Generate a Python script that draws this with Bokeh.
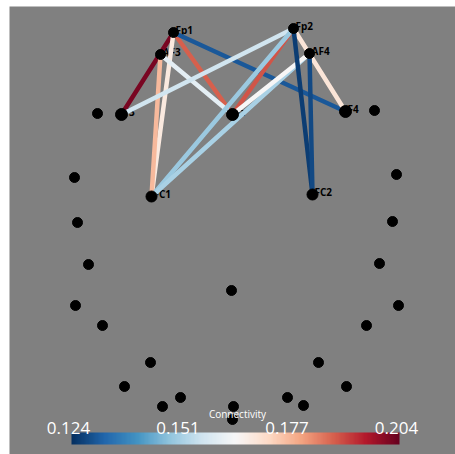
import numpy as np
from bokeh.plotting import figure
from bokeh.models import Range1d, ColumnDataSource, LinearColorMapper
from bokeh.transform import linear_cmap
from bokeh.palettes import RdBu11
from bokeh.core.properties import value
from bokeh.embed import file_html
from bokeh.resources import INLINE

# ---- data: projected electrode positions (screen-like units) ----
lab_names = ["Fp1", "Fp2", "AF3", "AF4", "F3", "Fz", "F4", "FC1", "FC2"]
lab_x = [173, 293, 160, 309, 121, 232, 345, 151, 312]
lab_y = [32, 28, 54, 53, 114, 114, 111, 196, 194]

other_x = [97, 374, 74, 396, 77, 392, 88, 379, 231, 75, 398, 102, 366,
           150, 318, 124, 346, 180, 287, 162, 303, 233, 232]
other_y = [113, 110, 177, 174, 222, 221, 264, 263, 290, 305, 305, 325, 325,
           362, 362, 386, 386, 397, 397, 406, 405, 406, 419]

con_from = ["Fp1", "Fp1", "Fp1", "Fp1", "AF3", "AF3", "F3", "Fp2", "Fp2",
            "AF4", "AF4", "Fp2", "Fp2", "AF4"]
con_to = ["F3", "Fz", "F4", "FC1", "FC1", "Fz", "Fp2", "Fz", "FC1",
          "FC1", "Fz", "F4", "FC2", "FC2"]
con_val = [0.202, 0.188, 0.130, 0.168, 0.177, 0.160, 0.156, 0.189, 0.149,
           0.151, 0.164, 0.169, 0.126, 0.128]

vmin, vmax = 0.124, 0.204
tick_vals = [0.124, 0.1507, 0.1773, 0.204]
cbar_title = "Connectivity"

# ---- palette (blue -> white -> red, interpolated) ----
def interp(pal, n):
    rgb = np.array([[int(c[i:i + 2], 16) for i in (1, 3, 5)] for c in pal], float)
    t = np.linspace(0, 1, len(pal))
    tt = np.linspace(0, 1, n)
    out = np.stack([np.interp(tt, t, rgb[:, k]) for k in range(3)], axis=1)
    return ["#%02x%02x%02x" % tuple(int(round(v)) for v in row) for row in out]

base = list(RdBu11)
if base[0].lower() != "#053061":
    base = base[::-1]
palette = interp(base, 256)
mapper = LinearColorMapper(palette=palette, low=vmin, high=vmax)

pos = {n: (x, y) for n, x, y in zip(lab_names, lab_x, lab_y)}
con_src = ColumnDataSource(dict(
    x0=[pos[a][0] for a in con_from], y0=[pos[a][1] for a in con_from],
    x1=[pos[b][0] for b in con_to], y1=[pos[b][1] for b in con_to],
    val=con_val))

p = figure(width=455, height=454, output_backend="svg", toolbar_location=None,
           x_range=Range1d(9, 455), y_range=Range1d(454, 6),
           min_border_left=9, min_border_top=6, min_border_right=0,
           min_border_bottom=0)
p.axis.visible = False
p.grid.visible = False
p.background_fill_color = "#808080"
p.border_fill_color = "white"
p.outline_line_color = None

# labels (drawn under the tubes and dots)
p.text(x=lab_x, y=lab_y, text=lab_names, text_color="black",
       text_font=value("Open Sans"), text_font_size="10px", text_font_style="bold",
       text_align="left", text_baseline="alphabetic", x_offset=2, y_offset=-3)

p.segment("x0", "y0", "x1", "y1", source=con_src, line_width=4.5, line_cap="round",
          line_color=linear_cmap("val", palette, vmin, vmax))

p.scatter(other_x, other_y, size=10, color="black")
lab_size = [10, 10, 10, 10, 12, 12, 12, 11, 11]
p.scatter(lab_x, lab_y, size=lab_size, color="black")

# colour bar
bar_x0, bar_w, bar_y0, bar_h = 71, 328, 432, 12
p.image(image=[np.linspace(vmin, vmax, 256)[None, :]], x=bar_x0, y=bar_y0,
        dw=bar_w, dh=bar_h, color_mapper=mapper)
lx = [bar_x0 + (v - vmin) / (vmax - vmin) * bar_w - 3 for v in tick_vals]
p.text(x=lx, y=[427] * len(tick_vals), text=[f"{v:.3f}" for v in tick_vals],
       text_color="white", text_font=value("Open Sans"), text_font_size="17px",
       text_align="center", text_baseline="alphabetic")
p.text(x=[237], y=[413], text=[cbar_title], text_color="white",
       text_font=value("Open Sans"), text_font_size="10px",
       text_align="center", text_baseline="alphabetic")

open("out.html", "w").write(file_html(p, INLINE))
